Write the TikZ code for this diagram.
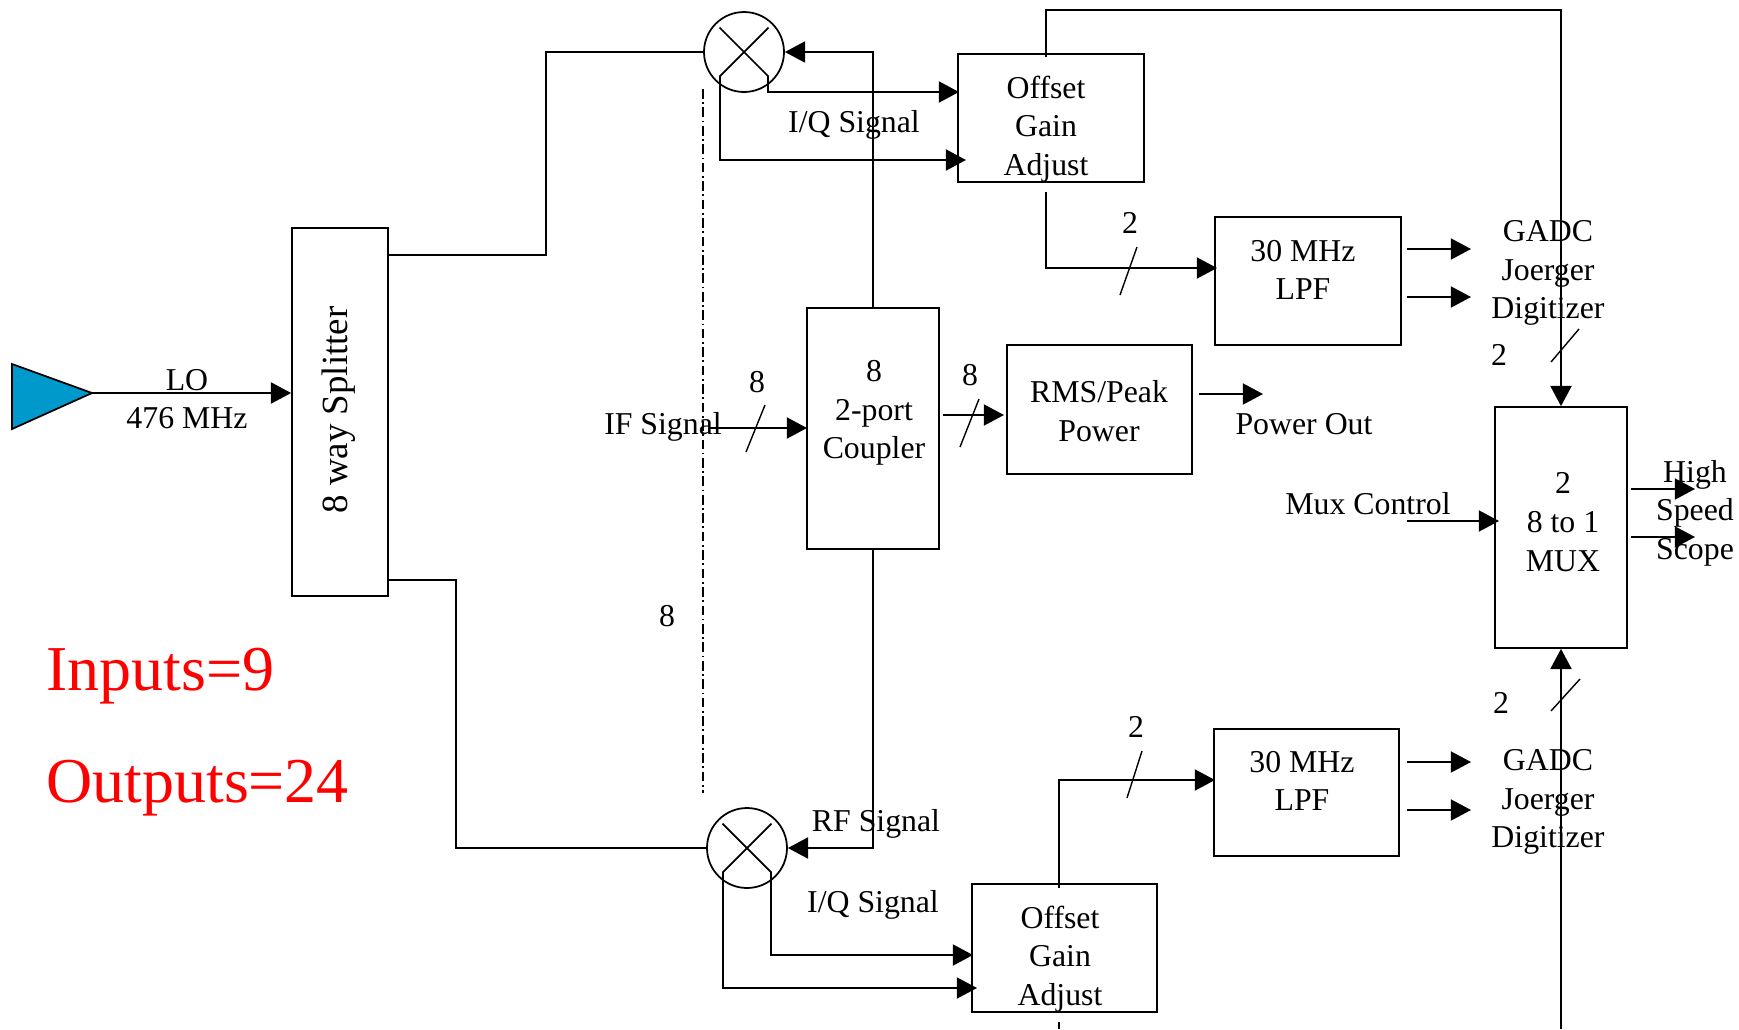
\documentclass[tikz,border=0pt]{standalone}
\usepackage{fontspec}
\setmainfont{Liberation Serif}
\usetikzlibrary{arrows.meta}
\definecolor{loblue}{HTML}{0099CC}
\tikzset{
    base/.style={line width=1pt},
    box/.style={base, draw, rectangle, inner sep=0pt},
    mixer/.style={base, draw, circle, inner sep=0pt, minimum size=1.6cm},
    txt/.style={inner sep=0pt, align=center, font=\fontsize{18.1}{22}\selectfont},
    bigtxt/.style={inner sep=0pt, anchor=west, text=red, font=\fontsize{36.4}{42}\selectfont},
    arrow/.style={base, -{Triangle[length=11.5pt,width=12pt]}},
    wire/.style={base, -},
    busmark/.style={line width=0.8pt, -}
}
\begin{document}
\begin{tikzpicture}[x=0.02cm, y=-0.02cm]
    \useasboundingbox (0,0) rectangle (1739,1029);

    % LO source and splitter
    \coordinate (lo) at (92,393);
    \draw[base, fill=loblue] (12,364) -- (lo) -- (12,429) -- cycle;
    \node[box, minimum width=1.92cm, minimum height=7.36cm] (split) at (340,412) {};
    \node[txt, rotate=90, font=\fontsize{21}{25}\selectfont] (splittext) at (339,410) {8 way Splitter};
    \node[txt] (lotext) at (187,380) {LO};
    \node[txt] (freqtext) at (187,418) {476 MHz};

    % Mixers
    \node[mixer] (mixtop) at (744,52) {};
    \node[mixer] (mixbot) at (747,848) {};
    \draw[wire] (719.5,27.5) -- (768.5,76.5);
    \draw[wire] (768.5,27.5) -- (719.5,76.5);
    \draw[wire] (722.5,823.5) -- (771.5,872.5);
    \draw[wire] (771.5,823.5) -- (722.5,872.5);

    % Boxes
    \node[box, minimum width=2.64cm, minimum height=4.82cm] (coupler) at (873,428.5) {};
    \node[box, minimum width=3.72cm, minimum height=2.56cm] (adjtop) at (1051,118) {};
    \node[box, minimum width=3.72cm, minimum height=2.56cm] (lpftop) at (1308,281) {};
    \node[box, minimum width=3.70cm, minimum height=2.58cm] (rms) at (1099.5,409.5) {};
    \node[box, minimum width=2.64cm, minimum height=4.82cm] (mux) at (1561,527.5) {};
    \node[box, minimum width=3.70cm, minimum height=2.54cm] (lpfbot) at (1306.5,792.5) {};
    \node[box, minimum width=3.70cm, minimum height=2.56cm] (adjbot) at (1064.5,948) {};

    % Box texts
    \node[txt] (couplertext) at (874,413) {8\\2-port\\Coupler};
    \node[txt] (adjtoptext) at (1046,129) {Offset\\Gain\\Adjust};
    \node[txt] (lpftoptext) at (1303,270) {30 MHz\\LPF};
    \node[txt] (rmstext) at (1099,411) {RMS/Peak\\Power};
    \node[txt] (muxtext) at (1563,522) {2\\8 to 1\\MUX};
    \node[txt] (lpfbottext) at (1302,781) {30 MHz\\LPF};
    \node[txt] (adjbottext) at (1060,959) {Offset\\Gain\\Adjust};

    % Free labels
    \node[txt] (iqtop) at (854,125) {I/Q Signal};
    \node[txt] (iqbot) at (873,905) {I/Q Signal};
    \node[txt] (rftext) at (876,824) {RF Signal};
    \node[txt] (iftext) at (663,427) {IF Signal};
    \node[txt] (ifcount) at (757,382) {8};
    \node[txt] (outcount) at (970,375) {8};
    \node[txt] (midcount) at (667,616) {8};
    \node[txt] (adjtopcount) at (1130,223) {2};
    \node[txt] (adjbotcount) at (1136,727) {2};
    \node[txt] (muxtopcount) at (1499,355) {2};
    \node[txt] (muxbotcount) at (1501,703) {2};
    \node[txt] (gadctop) at (1548,273) {GADC\\Joerger\\Digitizer};
    \node[txt] (gadcbot) at (1548,802) {GADC\\Joerger\\Digitizer};
    \node[txt] (powerout) at (1304,424) {Power Out};
    \node[txt] (muxctrl) at (1368,504) {Mux Control};
    \node[txt] (scope) at (1695,513) {High\\Speed\\Scope};
    \node[bigtxt] (inputs) at (46,676) {Inputs=9};
    \node[bigtxt] (outputs) at (46,788) {Outputs=24};

    % Free ends of the connectors
    \coordinate (splitup) at (388,255);
    \coordinate (splitdown) at (388,580);
    \coordinate (mixtopi) at (768,76);
    \coordinate (mixtopq) at (720,76);
    \coordinate (mixboti) at (771,872);
    \coordinate (mixbotq) at (723,872);
    \coordinate (adjtopi) at (959,92);
    \coordinate (adjtopq) at (966,160);
    \coordinate (adjboti) at (973,955);
    \coordinate (adjbotq) at (977,988);
    \coordinate (adjtopup) at (1046,57);
    \coordinate (adjtopdown) at (1046,192);
    \coordinate (adjbotup) at (1059,888);
    \coordinate (adjbotdown) at (1059,1022);
    \coordinate (pageend) at (1059,1029);
    \coordinate (lpftopin) at (1217,268);
    \coordinate (lpfbotin) at (1215,780);
    \coordinate (ifstart) at (710,428);
    \coordinate (ifend) at (807,428);
    \coordinate (outstart) at (943,415);
    \coordinate (outend) at (1004,415);
    \coordinate (busstart) at (1561,1029);

    % LO distribution
    \draw[arrow] (lo) -- (lo -| split.west);
    \draw[wire] (splitup) -- (546,255) -- (546,52) -- (mixtop.west);
    \draw[wire] (splitdown) -- (456,580) -- (456,848) -- (mixbot.west);

    % RF path
    \draw[arrow] (coupler.north) |- (mixtop.east);
    \draw[arrow] (coupler.south) |- (mixbot.east);
    \draw[arrow] (ifstart) -- (ifend);
    \draw[arrow] (outstart) -- (outend);

    % I/Q outputs
    \draw[arrow] (mixtopi) |- (adjtopi);
    \draw[arrow] (mixtopq) |- (adjtopq);
    \draw[arrow] (mixboti) |- (adjboti);
    \draw[arrow] (mixbotq) |- (adjbotq);

    % Offset boxes to filters and MUX
    \draw[arrow] (adjtopdown) |- (lpftopin);
    \draw[arrow] (adjbotup) |- (lpfbotin);
    \draw[arrow] (adjtopup) -- (1046,10) -- (1561,10) -- (mux.north);
    \draw[arrow] (busstart) -- (mux.south);
    \draw[wire] (adjbotdown) -- (pageend);

    % Short output arrows
    \draw[arrow] (1407,249) -- (1471,249);
    \draw[arrow] (1407,297) -- (1471,297);
    \draw[arrow] (1407,762) -- (1471,762);
    \draw[arrow] (1407,810) -- (1471,810);
    \draw[arrow] (1199,394) -- (1263,394);
    \draw[arrow] (1407,521) -- (1499,521);
    \draw[arrow] (1631,489) -- (1695,489);
    \draw[arrow] (1631,537) -- (1695,537);

    % Bus marks
    \draw[busmark] (746,452) -- (765,405);
    \draw[busmark] (960,447) -- (979,399);
    \draw[busmark] (1120,295) -- (1137,247);
    \draw[busmark] (1127,798) -- (1142,751);
    \draw[busmark] (1551,362) -- (1579,329);
    \draw[busmark] (1551,711) -- (1580,679);

    % Separator
    \draw[base, dash pattern=on 5.5pt off 2pt on 1pt off 2pt] (703,89) -- (703,793);
\end{tikzpicture}
\end{document}
